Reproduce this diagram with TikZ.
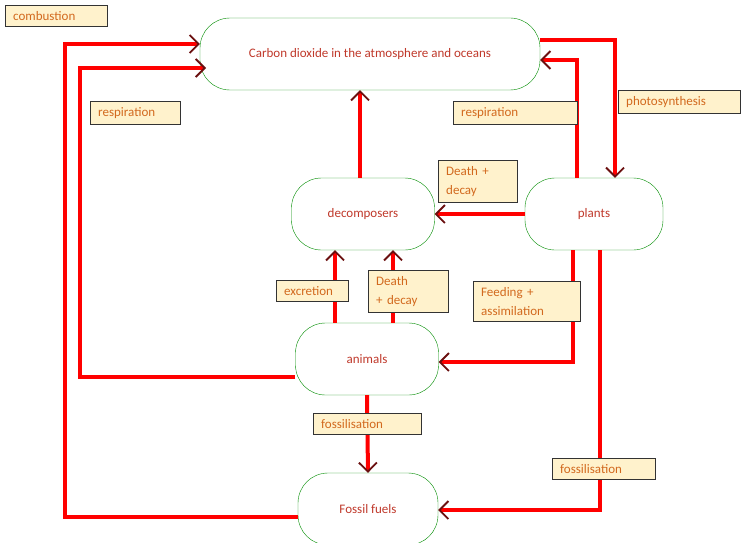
\documentclass[tikz,border=0pt]{standalone}
\usepackage{fontspec}
\setmainfont{Carlito}
\usetikzlibrary{arrows.meta}
\definecolor{boxtext}{HTML}{C0392B}
\definecolor{labtext}{HTML}{D2691E}
\definecolor{labfill}{HTML}{FFF2CC}
\definecolor{tipcol}{HTML}{6B1010}
\tikzset{
  stage/.style={draw=green!55!black, fill=white, rounded corners=30pt, text=boxtext,
    font=\fontsize{13}{16}\selectfont, inner sep=0pt},
  lab/.style={draw=black!80, fill=labfill, text=labtext, align=left,
    font=\fontsize{13}{19}\selectfont, inner xsep=8pt, inner ysep=6pt, anchor=north west},
  flow/.style={draw=red, line width=4pt,
    -{Straight Barb[length=9pt,width=18pt,line width=1.8pt,color=tipcol]}}
}
\begin{document}
\begin{tikzpicture}[x=1pt,y=-1pt]
\useasboundingbox (0,0) rectangle (744,543);
% stages
\node[stage, minimum width=340pt, minimum height=72pt] (co2) at (370,54) {Carbon dioxide in the atmosphere and oceans};
\node[stage, minimum width=143pt, minimum height=72pt] (dec) at (363,214) {decomposers};
\node[stage, minimum width=138pt, minimum height=72pt] (pla) at (594,214) {plants};
\node[stage, minimum width=143pt, minimum height=72pt] (ani) at (367,359) {animals};
\node[stage, minimum width=140pt, minimum height=72pt] (fos) at (368,509) {Fossil fuels};
% flows
\coordinate (c1) at (65,517);
\coordinate (c2) at (65,44);
\draw[flow] (fos.west |- c1) -- (c1) -- (c2) -- (co2.west |- c2);
\coordinate (r1) at (80,377);
\coordinate (r2) at (80,68);
\draw[flow] (ani.west |- r1) -- (r1) -- (r2) -- (206,68);
\draw[flow] (dec.north -| 360,0) -- (co2.south -| 360,0);
\coordinate (p1) at (577,60);
\draw[flow] (pla.north -| p1) -- (p1) -- (co2.east |- p1);
\coordinate (p2) at (615,40);
\draw[flow] (co2.east |- p2) -- (p2) -- (pla.north -| p2);
\draw[flow] (pla.west) -- (dec.east);
\draw[flow] (ani.north -| 335,0) -- (dec.south -| 335,0);
\draw[flow] (ani.north -| 393,0) -- (dec.south -| 393,0);
\coordinate (f1) at (573,362);
\draw[flow] (pla.south -| f1) -- (f1) -- (ani.east |- f1);
\draw[flow] (ani.south) -- (fos.north);
\coordinate (f2) at (600,510);
\draw[flow] (pla.south -| f2) -- (f2) -- (fos.east |- f2);
% labels
\node[lab, text width=86pt] (lcomb) at (5,5) {combustion};
\node[lab, text width=74pt] (lresl) at (90,101) {respiration};
\node[lab, text width=108pt] (lresr) at (453,101) {respiration};
\node[lab, text width=106pt] (lphot) at (618,90) {photosynthesis};
\node[lab, text width=63pt] (ldd1) at (438,160) {Death +\\decay};
\node[lab, text width=56pt] (lexc) at (276,280) {excretion};
\node[lab, text width=64pt] (ldd2) at (368,270) {Death\\+ decay};
\node[lab, text width=91pt] (lfeed) at (473,281) {Feeding +\\assimilation};
\node[lab, text width=92pt] (lfos1) at (313,413) {fossilisation};
\node[lab, text width=87pt] (lfos2) at (552,458) {fossilisation};
\end{tikzpicture}
\end{document}
